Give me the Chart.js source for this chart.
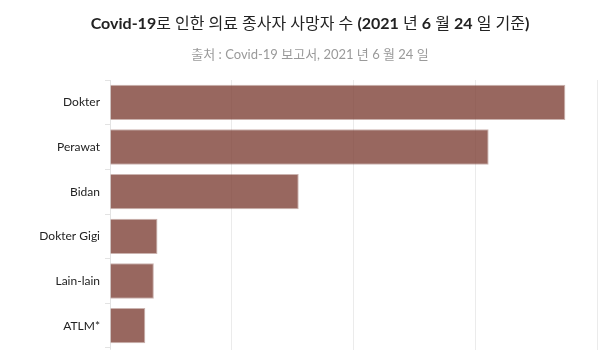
<!DOCTYPE html>
<html>
<head>
<meta charset="utf-8">
<script src="https://cdn.jsdelivr.net/npm/chart.js@4"></script>
<style>
  html, body { margin: 0; padding: 0; background: #fff; overflow: hidden; }
  #wrap { width: 600px; height: 380px; }
</style>
</head>
<body>
<div id="wrap"><canvas id="deathChart" width="600" height="380"></canvas></div>
<script>
// categories and values
const professions = ['Dokter', 'Perawat', 'Bidan', 'Dokter Gigi', 'Lain-lain', 'ATLM*'];
const deaths = [374, 311, 155, 39, 36, 29];
const xMax = 400;
const xStep = 100;

// title pieces: latin parts come out bold, hangul stays regular
const titleRuns = [
  ['Covid-19', true], ['로 인한 의료 종사자 사망자 수 ', false], ['(2021', true],
  [' 년 ', false], ['6', true], [' 월 ', false], ['24', true], [' 일 기준', false], [')', true],
];
const subtitleText = '출처 : Covid-19 보고서, 2021 년 6 월 24 일';

const FONT = "Lato, 'Noto Sans CJK KR', sans-serif";

const headerPlugin = {
  id: 'header',
  afterDraw(chart) {
    const c = chart.ctx;
    const cx = 310;
    c.save();
    c.textBaseline = 'middle';
    c.textAlign = 'left';
    let total = 0;
    titleRuns.forEach(([t, b]) => {
      c.font = (b ? 'bold ' : '') + '16px ' + FONT;
      total += c.measureText(t).width;
    });
    let x = cx - total / 2;
    c.fillStyle = '#222';
    titleRuns.forEach(([t, b]) => {
      c.font = (b ? 'bold ' : '') + '16px ' + FONT;
      c.fillText(t, x, 24);
      x += c.measureText(t).width;
    });
    c.font = '13px ' + FONT;
    c.fillStyle = '#9a9a9a';
    c.textAlign = 'center';
    c.fillText(subtitleText, cx, 55);
    c.restore();
  },
};

const ctx = document.getElementById('deathChart');
const deathChart = new Chart(ctx, {
  type: 'bar',
  data: {
    labels: professions,
    datasets: [
      {
        label: 'Deaths',
        data: deaths,
        backgroundColor: 'rgba(126, 65, 55, 0.8)',
        borderColor: 'rgba(126, 65, 55, 0.4)',
        borderWidth: 1,
        barPercentage: 0.88,
        categoryPercentage: 0.9,
      },
    ],
  },
  options: {
    indexAxis: 'y',
    responsive: false,
    animation: false,
    layout: { padding: { top: 80, right: 2, left: 0, bottom: 0 } },
    plugins: {
      legend: { display: false },
      tooltip: { enabled: false },
    },
    scales: {
      x: {
        min: 0,
        max: xMax,
        ticks: { stepSize: xStep, align: 'inner', color: '#333', font: { family: FONT, size: 12 } },
        grid: { color: '#ebebeb', tickLength: 5 },
        border: { display: false },
        afterFit(scale) { scale.height = 32; },
      },
      y: {
        ticks: { color: '#222', padding: 5, font: { family: FONT, size: 12 } },
        grid: { drawOnChartArea: false, color: '#e3e3e3', tickLength: 5 },
        border: { color: '#e3e3e3' },
        afterFit(scale) { scale.width = 110; },
      },
    },
  },
  plugins: [headerPlugin],
});
</script>
</body>
</html>
